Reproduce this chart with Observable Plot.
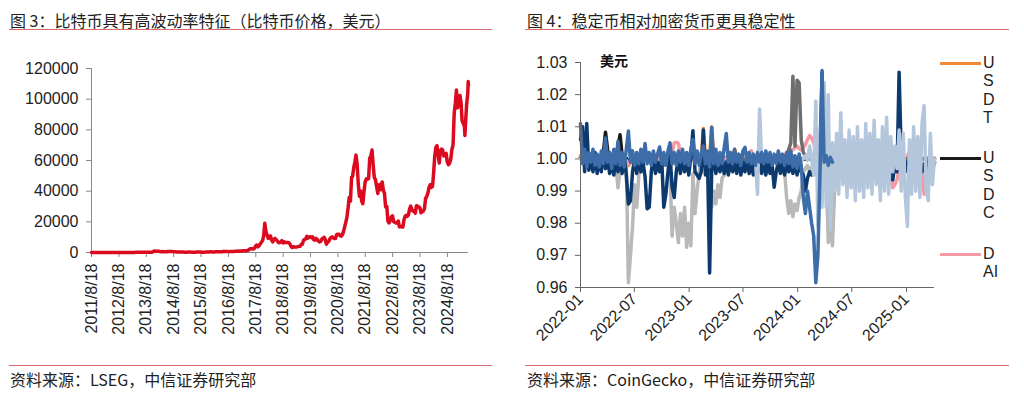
<!DOCTYPE html>
<html><head><meta charset="utf-8">
<script src="https://cdn.jsdelivr.net/npm/d3@7"></script>
<script src="https://cdn.jsdelivr.net/npm/@observablehq/plot@0.6"></script>
<style>
body{margin:0;background:#fff;width:1024px;height:397px;position:relative;overflow:hidden;font-family:"Liberation Sans",Arial,"Noto Sans CJK SC",sans-serif;}
.abs{position:absolute;}
.title{font-family:"Noto Sans CJK SC",sans-serif;font-size:16px;line-height:22px;color:#222;white-space:nowrap;}
.rule{height:0;border-top:1.5px solid #dc6b6b;}
.src{font-family:"Noto Sans CJK SC",sans-serif;font-size:16px;line-height:22px;color:#222;white-space:nowrap;}
.unit{font-family:"Noto Sans CJK SC",sans-serif;font-weight:bold;font-size:14px;line-height:22px;color:#111;z-index:3;}
.lgline{height:3px;width:41px;z-index:3;}
.lgtext{width:16px;word-break:break-all;font-size:16px;line-height:18.5px;color:#222;z-index:3;}
</style>
</head><body>
<script>
// ---------------- Left chart data: Bitcoin price (USD) ----------------
// Semi-monthly closes on the 1st and 16th of each month, 2011-09 .. 2025-05
const btcSemiMonthly = [
 8.2,5.0, 5.0,3.5, 3.2,2.5, 3.0,3.2,
 5.3,6.5, 5.8,4.5, 4.9,5.3, 4.9,5.0, 5.0,5.1, 5.3,6.3, 6.6,8.5, 9.5,12.0, 10.3,11.8, 12.4,11.7, 10.6,11.6, 12.6,13.3,
 13.4,14.5, 20,26, 34,47, 104,90, 117,115, 120,100, 88,98, 105,110, 130,127, 125,145, 205,430, 1000,700,
 800,850, 820,620, 560,630, 470,520, 450,450, 640,590, 630,620, 590,500, 480,470, 385,390, 330,390, 375,330,
 315,210, 230,235, 255,285, 245,225, 235,237, 225,250, 260,280, 280,255, 230,230, 237,262, 330,330, 360,455,
 430,385, 375,400, 435,415, 415,430, 450,455, 535,765, 675,665, 625,580, 570,610, 610,640, 700,745, 750,780,
 1000,830, 990,1020, 1180,1100, 1080,1200, 1430,1750, 2400,2500, 2500,2300, 2800,4300, 4900,3700, 4400,5600, 6700,7800, 10900,19100,
 13600,11300, 9200,10100, 10900,8300, 6900,8300, 9200,8500, 7500,6500, 6400,6700, 7700,6300, 7000,6500, 6600,6500, 6400,5600, 4000,3300,
 3800,3600, 3500,3600, 3800,4000, 4100,5200, 5400,7900, 8500,9000, 10600,9400, 10100,10300, 9600,10200, 8300,8000, 9200,8500, 7400,6900,
 7200,8700, 9400,9900, 8600,5400, 6600,7100, 8800,9700, 10200,9500, 9200,9200, 11800,11900, 11900,10900, 10600,11500, 13800,16700, 19700,23000,
 29400,36000, 33500,49000, 49600,55000, 59000,63500, 57800,45000, 36700,40200, 33600,31800, 39900,46000, 48000,47700, 48200,61500, 63000,66800, 57200,48900,
 47500,43000, 38500,44000, 44400,41000, 46000,40500, 38500,29800, 30000,20400, 19300,20800, 23300,23900, 20100,19700, 19300,19300, 20500,16700, 17000,16800,
 16600,21200, 23700,24300, 23600,24400, 28500,30300, 28000,27000, 27200,25600, 30500,30300, 29700,29200, 25900,26600, 27000,28500, 35400,36500, 38700,42300,
 44200,42500, 43100,52100, 62400,68400, 69700,63800, 58300,66200, 67500,66700, 62900,64100, 64600,58900, 57300,58200, 60800,67000, 70200,90500, 97200,106000,
 94400,100500, 102400,97600, 86000,84300, 82500,84000, 96500,103700
];
const btcExtraDates = ["2011-08-18", "2025-04-08", "2025-05-22", "2025-05-26"];
const btcExtraPrices = [11, 76300, 111500, 109000];
const btcYTicks = [0, 20000, 40000, 60000, 80000, 100000, 120000];
const btcXTickYears = [2011,2012,2013,2014,2015,2016,2017,2018,2019,2020,2021,2022,2023,2024];
const btcDomain = ["2011-08-18", "2025-05-26"];

// ---------------- Right chart data: stablecoin prices (USD), weekly from 2022-01-01 ----------------
const weekStartDate = "2022-01-01";
const usdt = [
 1.0010,1.0005,0.9995,1.0008,1.0000,0.9996,1.0004,1.0001,0.9998,1.0003,
 1.0002,0.9997,1.0006,1.0001,0.9998,1.0003,1.0000,0.9995,1.0004,1.0002,
 0.9990,0.9985,0.9992,0.9980,0.9988,0.9995,0.9998,1.0002,0.9997,1.0001,
 1.0003,0.9998,1.0001,1.0004,0.9999,1.0002,0.9997,1.0001,1.0003,0.9998,
 1.0000,1.0004,0.9998,1.0002,0.9985,0.9990,0.9995,1.0000,0.9998,1.0002,
 1.0001,0.9997,1.0003,1.0000,0.9998,1.0004,1.0001,0.9999,1.0003,1.0095,
 1.0005,1.0010,1.0004,1.0100,1.0008,1.0006,1.0003,1.0001,1.0004,1.0002,
 1.0005,1.0003,1.0001,1.0006,1.0030,1.0004,1.0002,0.9999,1.0003,1.0001,
 0.9998,1.0002,1.0025,1.0003,1.0000,0.9997,1.0002,1.0001,0.9999,1.0003,
 1.0001,0.9998,1.0002,1.0000,0.9997,1.0003,1.0001,0.9999,1.0002,1.0004,
 1.0006,1.0003,1.0008,1.0005,1.0002,1.0004,1.0001,0.9998,1.0002,1.0005,
 1.0007,1.0004,1.0002,1.0005,1.0003,1.0006,1.0004,1.0002,1.0005,1.0003,
 1.0004,1.0001,1.0003,0.9999,1.0002,1.0000,0.9998,1.0002,1.0001,0.9999,
 1.0002,0.9998,1.0001,1.0003,0.9999,1.0002,1.0000,0.9998,1.0001,1.0003,
 1.0001,0.9999,1.0002,1.0000,0.9998,1.0002,1.0004,1.0001,1.0003,1.0005,
 1.0004,1.0002,1.0005,1.0003,1.0006,1.0004,1.0002,1.0003,1.0001,0.9999,
 1.0002,1.0000,0.9998,1.0001,1.0003,0.9999,1.0002,1.0000,0.9998,1.0001,1.0002
];
const usdc = [
 1.0005,1.0010,0.9998,1.0004,1.0000,0.9997,1.0003,1.0001,0.9999,1.0002,
 1.0001,1.0020,1.0083,1.0030,1.0002,0.9998,1.0003,1.0010,1.0040,1.0075,
 1.0010,0.9995,1.0002,0.9990,0.9996,1.0001,0.9998,1.0003,1.0000,0.9998,
 1.0002,0.9999,1.0001,0.9998,1.0002,1.0000,0.9997,1.0002,1.0001,0.9998,
 1.0001,0.9999,1.0002,1.0000,0.9996,1.0001,0.9998,1.0002,1.0000,0.9999,
 1.0002,1.0000,0.9998,1.0001,1.0003,0.9999,1.0001,0.9998,1.0000,1.0004,
 0.9998,1.0002,0.9950,1.0003,1.0000,0.9998,1.0002,1.0000,0.9997,1.0001,
 1.0002,0.9999,1.0001,0.9998,1.0003,1.0000,0.9998,1.0002,1.0001,0.9999,
 1.0002,1.0000,0.9998,1.0001,1.0003,0.9999,1.0001,0.9998,1.0002,1.0000,
 0.9998,1.0002,1.0001,0.9999,1.0002,1.0000,0.9998,1.0001,1.0003,1.0001,
 1.0002,1.0004,1.0001,0.9999,1.0002,1.0000,0.9998,1.0001,0.9999,1.0002,
 1.0001,0.9999,1.0002,1.0000,0.9998,1.0001,1.0003,0.9999,1.0001,0.9998,
 1.0002,1.0000,0.9999,1.0001,0.9998,1.0002,1.0000,0.9999,1.0001,1.0000,
 0.9999,1.0001,1.0000,0.9998,1.0002,1.0000,0.9999,1.0001,0.9998,1.0002,
 1.0000,0.9999,1.0001,1.0000,0.9998,1.0002,1.0000,0.9999,1.0001,0.9998,
 1.0002,1.0000,0.9999,1.0001,1.0000,0.9998,1.0002,1.0000,0.9999,1.0001,
 0.9998,1.0002,1.0000,0.9999,1.0001,1.0000,0.9998,1.0002,1.0000,0.9999,0.9990
];
const dai = [
 1.0010,1.0005,1.0002,1.0006,1.0001,0.9998,1.0003,1.0000,0.9997,1.0002,
 1.0004,1.0010,1.0035,1.0008,1.0002,0.9998,1.0003,1.0000,1.0004,1.0006,
 1.0002,0.9990,0.9995,0.9985,0.9992,0.9998,1.0001,0.9997,1.0002,1.0000,
 0.9998,1.0002,1.0000,0.9997,1.0003,1.0001,0.9998,1.0002,1.0000,0.9999,
 1.0002,1.0000,1.0004,1.0010,1.0020,1.0050,1.0052,1.0048,1.0015,1.0004,
 1.0001,0.9998,1.0002,1.0000,0.9998,1.0003,1.0001,0.9998,1.0002,1.0001,
 0.9998,1.0002,0.9990,1.0004,1.0001,0.9998,1.0002,1.0000,0.9997,1.0001,
 1.0002,0.9999,1.0001,1.0003,1.0002,0.9999,1.0002,1.0000,0.9998,1.0001,
 1.0003,1.0010,1.0025,1.0006,1.0001,0.9998,1.0002,1.0000,0.9998,1.0002,
 1.0001,0.9999,1.0002,1.0000,0.9998,1.0002,1.0004,1.0008,1.0012,1.0018,
 1.0026,1.0030,1.0028,1.0035,1.0040,1.0032,1.0028,1.0035,1.0045,1.0060,
 1.0073,1.0065,1.0050,1.0030,1.0015,1.0008,1.0004,1.0002,1.0000,1.0003,
 1.0001,0.9998,1.0002,1.0000,0.9998,1.0002,1.0001,0.9999,1.0002,1.0000,
 0.9998,1.0002,1.0000,0.9997,1.0001,1.0003,0.9999,1.0001,0.9998,1.0002,
 1.0000,0.9998,1.0002,1.0001,0.9999,1.0002,1.0000,0.9998,0.9980,0.9950,
 0.9910,0.9920,0.9935,0.9970,0.9995,1.0002,1.0000,1.0010,1.0025,1.0040,
 1.0050,1.0057,1.0030,1.0005,0.9960,0.9890,0.9940,0.9990,1.0002,1.0000,1.0001
];
const tusd = [
 1.0000,0.9990,1.0010,0.9995,1.0005,0.9990,1.0005,0.9995,1.0000,0.9990,
 1.0005,0.9995,1.0000,0.9990,1.0005,0.9995,1.0000,0.9980,0.9910,0.9960,
 0.9990,0.9995,0.9980,0.9615,0.9700,0.9790,0.9920,0.9850,0.9950,0.9980,
 0.9990,1.0000,0.9990,1.0000,0.9985,1.0000,0.9990,0.9995,0.9985,0.9990,
 0.9980,0.9990,0.9985,0.9960,0.9760,0.9850,0.9800,0.9740,0.9830,0.9760,
 0.9850,0.9725,0.9800,0.9730,0.9955,0.9830,0.9900,0.9960,0.9990,0.9980,
 0.9990,0.9970,0.9880,0.9850,0.9900,0.9860,0.9920,0.9880,0.9940,0.9950,
 0.9975,0.9990,0.9985,0.9995,0.9990,1.0000,0.9990,0.9995,0.9985,1.0000,
 0.9990,0.9995,0.9985,1.0000,0.9990,0.9995,0.9990,0.9995,0.9985,1.0000,
 0.9990,0.9995,0.9985,0.9990,0.9995,0.9985,0.9990,0.9980,0.9960,0.9880,
 0.9830,0.9870,0.9820,0.9860,0.9840,0.9880,0.9900,0.9960,0.9970,0.9980,
 0.9960,0.9975,0.9985,0.9990,0.9980,0.9990,0.9985,0.9990,0.9960,0.9740,
 0.9800,0.9730,0.9900,0.9960,0.9980,0.9990,0.9985,0.9995,0.9990,1.0000,
 0.9995,1.0002,0.9998,1.0001,0.9997,1.0002,0.9999,1.0001,0.9998,1.0002,
 1.0000,0.9997,1.0002,0.9999,1.0001,0.9998,1.0002,1.0000,0.9997,1.0001,
 0.9999,1.0002,0.9998,1.0001,0.9997,1.0002,0.9999,0.9995,1.0000,0.9998,
 1.0002,0.9999,1.0001,0.9998,1.0002,1.0000,0.9997,1.0001,0.9999,1.0002,1.0000
];
const fdusdStartWeek = 78;
const fdusd = [
 1.0000,0.9995,
 1.0002,0.9998,1.0003,1.0000,0.9997,1.0002,1.0000,0.9998,1.0002,1.0001,
 0.9998,1.0002,1.0000,0.9997,1.0003,1.0001,0.9998,1.0002,1.0005,1.0010,
 1.0030,1.0050,1.0257,1.0040,1.0245,1.0237,1.0060,1.0020,1.0010,1.0005,
 1.0002,0.9998,1.0003,1.0000,0.9997,1.0002,1.0000,0.9998,1.0002,1.0001,
 1.0001,0.9998,1.0002,1.0000,0.9997,1.0002,1.0001,0.9998,1.0002,1.0000,
 0.9998,1.0002,1.0000,0.9997,1.0003,1.0001,0.9998,1.0002,1.0000,0.9999,
 1.0002,1.0000,0.9998,1.0001,1.0003,0.9999,1.0001,0.9998,1.0002,1.0000,
 0.9999,1.0001,1.0000,0.9998,1.0002,1.0000,0.9999,1.0001,0.9998,1.0002,
 1.0000,0.9999,1.0001,1.0000,0.9998,1.0002,1.0000,0.9999,1.0001,0.9998,1.0000
];
const usdp = [
 1.0060,1.0100,0.9960,1.0110,0.9965,1.0000,0.9960,1.0020,0.9955,1.0000,
 0.9960,1.0030,0.9970,1.0000,0.9955,0.9990,0.9950,1.0010,0.9960,1.0000,
 0.9955,1.0010,0.9950,0.9860,0.9870,0.9960,1.0000,0.9955,1.0010,0.9960,
 0.9990,0.9945,0.9845,0.9850,0.9960,1.0010,0.9955,0.9990,0.9960,1.0000,
 0.9850,0.9890,0.9960,1.0010,0.9912,0.9880,0.9960,1.0000,0.9955,1.0010,
 0.9960,1.0000,0.9950,1.0010,1.0088,0.9960,0.9950,0.9940,0.9960,1.0090,
 0.9950,1.0000,0.9645,0.9960,1.0010,0.9955,0.9990,0.9960,1.0000,0.9955,
 0.9990,0.9950,1.0000,0.9960,0.9990,0.9955,1.0000,0.9950,0.9990,0.9960,
 1.0000,0.9955,0.9990,0.9950,0.9995,0.9960,0.9990,0.9955,1.0000,0.9950,
 0.9990,0.9955,0.9985,0.9912,0.9960,0.9990,0.9955,0.9985,0.9950,0.9990,
 0.9960,0.9980,0.9955,0.9990,0.9950,0.9985,0.9960,0.9950,0.9900,0.9940,
 0.9960,0.9950,0.9960,0.9990,0.9970,0.9980,1.0270,0.9960,0.9990,0.9970,
 0.9990,0.9960,0.9985,0.9965,0.9990,0.9955,0.9985,0.9962,0.9992,0.9966,
 0.9988,0.9958,0.9986,0.9964,0.9991,0.9957,0.9987,0.9961,0.9989,0.9963,
 0.9992,0.9959,0.9984,0.9966,0.9990,0.9956,0.9986,0.9962,0.9989,0.9940,
 0.9935,0.9985,0.9960,1.0270,1.0020,0.9985,0.9960,0.9990,0.9965,0.9990,
 0.9960,0.9985,0.9965,0.9990,0.9960,0.9985,0.9965,0.9990,0.9960,0.9985,0.9985
];
const pyusdStartWeek = 84;
const pyusd = [
 1.0000,0.9890,1.0155,0.9995,1.0005,0.9995,
 1.0005,0.9995,1.0000,1.0005,0.9995,1.0000,1.0005,0.9995,1.0000,1.0005,
 0.9995,1.0000,1.0005,0.9995,1.0000,1.0005,0.9995,1.0000,1.0010,0.9995,
 1.0040,1.0000,0.9950,1.0180,0.9790,1.0100,0.9850,1.0238,0.9850,1.0200,
 0.9780,1.0050,0.9900,1.0080,0.9890,1.0144,0.9920,1.0060,0.9880,1.0090,
 0.9910,1.0070,0.9870,1.0100,0.9900,1.0060,0.9880,1.0110,0.9910,1.0080,
 0.9890,1.0120,0.9920,1.0060,0.9870,1.0100,0.9900,1.0130,0.9890,1.0070,
 0.9960,1.0040,0.9970,1.0090,0.9900,1.0080,0.9880,0.9790,1.0060,0.9890,
 1.0100,0.9900,1.0070,0.9880,1.0110,1.0166,0.9900,0.9870,1.0080,0.9920,1.0000
];
const busd = [
 1.0110,0.9985,1.0030,0.9975,1.0020,0.9990,1.0030,0.9980,1.0015,0.9975,
 1.0025,0.9985,1.0065,0.9990,1.0020,0.9970,1.0030,0.9985,1.0055,0.9980,
 1.0020,0.9975,1.0030,1.0087,0.9990,1.0025,0.9980,1.0020,0.9985,1.0030,
 0.9990,1.0048,0.9985,1.0020,0.9980,1.0025,0.9990,1.0015,1.0037,0.9985,
 1.0020,0.9980,1.0025,1.0050,0.9985,1.0020,0.9980,1.0025,0.9990,1.0030,
 0.9985,1.0020,0.9980,1.0030,1.0060,0.9985,1.0025,0.9980,1.0020,1.0040,
 0.9985,1.0025,0.9975,1.0098,0.9985,1.0030,0.9980,1.0020,0.9985,1.0035,
 1.0079,0.9990,1.0020,0.9985,1.0030,0.9990,1.0015,0.9980,1.0025,1.0036,
 0.9990,1.0020,0.9985,1.0015,0.9980,1.0020,0.9990,1.0020,0.9985,1.0025,
 0.9990,1.0020,0.9980,1.0015,0.9985,1.0025,0.9990,1.0015,0.9980,1.0020,
 0.9985,1.0025,0.9975,1.0010,0.9970,1.0015,0.9980,0.9880,0.9830,0.9900,
 0.9850,0.9800,0.9760,0.9615,0.9700,0.9950,1.0275,0.9990,1.0010,0.9980,1.0005,0.9990
];
const stableYTicks = [0.96, 0.97, 0.98, 0.99, 1.00, 1.01, 1.02, 1.03];
const stableXTicks = ["2022-01-01","2022-07-01","2023-01-01","2023-07-01","2024-01-01","2024-07-01","2025-01-01"];
const stableDomain = ["2022-01-01", "2025-04-05"];
const legendNames = ["USDT", "USDC", "DAI"];

// ---------------- Styles (kept apart from data) ----------------
const colors = {USDT:"#f0883a", USDC:"#1a1a1a", DAI:"#f59aa4", TUSD:"#b9b9b9", FDUSD:"#6e6e6e", USDP:"#0c3a6e", PYUSD:"#b3c6dc", BUSD:"#3d6da9"};
const numFont = "'Liberation Sans', Arial, sans-serif";

// ---------------- Build tables ----------------
const btc = btcSemiMonthly.map((p, i) => {
  const y = 2011 + Math.floor((8 + Math.floor(i / 2)) / 12);
  const m = (8 + Math.floor(i / 2)) % 12;
  return {date: new Date(Date.UTC(y, m, i % 2 === 0 ? 1 : 16)), price: p};
}).concat(btcExtraDates.map((d, i) => ({date: new Date(d), price: btcExtraPrices[i]})))
  .sort((a, b) => a.date - b.date);
const btcXTicks = btcXTickYears.map(y => new Date(Date.UTC(y, 7, 18)));

const w0 = new Date(weekStartDate).getTime();
const weekly = (vals, start) => vals.map((v, i) => ({date: new Date(w0 + (start + i) * 7 * 864e5), value: v}));
const seriesOrder = [
  ["USDT", weekly(usdt, 0)], ["USDC", weekly(usdc, 0)], ["DAI", weekly(dai, 0)],
  ["TUSD", weekly(tusd, 0)], ["FDUSD", weekly(fdusd, fdusdStartWeek)], ["USDP", weekly(usdp, 0)],
  ["PYUSD", weekly(pyusd, pyusdStartWeek)], ["BUSD", weekly(busd, 0)]
];

// ---------------- Left chart ----------------
const left = Plot.plot({
  width: 512, height: 300,
  marginLeft: 91, marginRight: 44, marginTop: 28, marginBottom: 88,
  style: {fontSize: "16px", fontFamily: numFont, color: "#222", background: "transparent"},
  x: {type: "utc", domain: btcDomain.map(d => new Date(d))},
  y: {domain: [0, 120000]},
  marks: [
    Plot.axisY({ticks: btcYTicks, tickSize: 5, tickPadding: 8, tickFormat: d => String(d), label: null, stroke: "#888"}),
    Plot.axisX({ticks: btcXTicks, tickSize: 5, tickPadding: 6, tickRotate: -90, label: null, stroke: "#888",
      tickFormat: d => `${d.getUTCFullYear()}/${d.getUTCMonth() + 1}/${d.getUTCDate()}`}),
    Plot.ruleX([new Date(btcDomain[0])], {stroke: "#888"}),
    Plot.ruleY([0], {stroke: "#888"}),
    Plot.line(btc, {x: "date", y: "price", stroke: "#dc0a1e", strokeWidth: 3.5, strokeLinejoin: "round"})
  ]
});

// ---------------- Right chart ----------------
const right = Plot.plot({
  width: 512, height: 320,
  marginLeft: 68, marginRight: 90, marginTop: 22, marginBottom: 73,
  style: {fontSize: "16px", fontFamily: numFont, color: "#222", background: "transparent"},
  x: {type: "utc", domain: stableDomain.map(d => new Date(d))},
  y: {domain: [0.96, 1.03]},
  marks: [
    Plot.axisY({ticks: stableYTicks, tickSize: 5, tickPadding: 8, tickFormat: d3.format(".2f"), label: null, stroke: "#666"}),
    Plot.axisX({ticks: stableXTicks.map(d => new Date(d)), tickSize: 5, tickPadding: 4, tickRotate: -45, label: null, stroke: "#666",
      tickFormat: d3.utcFormat("%Y-%m")}),
    ...seriesOrder.map(([name, data]) => Plot.line(data, {x: "date", y: "value", stroke: colors[name], strokeWidth: 3.5, strokeLinejoin: "round"})),
    Plot.ruleX([new Date(stableDomain[0])], {stroke: "#666"}),
    Plot.ruleY([0.96], {stroke: "#666"})
  ]
});

function place(el, x, y, w) {
  const d = document.createElement("div");
  d.className = "abs"; d.style.left = x + "px"; d.style.top = y + "px";
  if (w) d.style.width = w + "px";
  d.appendChild(el); document.body.appendChild(d); return d;
}
place(left, 0, 40, 512);
place(right, 512, 40, 512);

function html(cls, x, y, text, extra) {
  const d = document.createElement("div");
  d.className = "abs " + cls; d.style.left = x + "px"; d.style.top = y + "px";
  if (text != null) d.textContent = text;
  if (extra) Object.assign(d.style, extra);
  document.body.appendChild(d); return d;
}
html("title", 10, 9, "图 3：比特币具有高波动率特征（比特币价格，美元）");
html("title", 527, 9, "图 4：稳定币相对加密货币更具稳定性");
html("rule", 9, 29, null, {width: "483px"});
html("rule", 525, 29, null, {width: "484px"});
html("rule", 9, 365, null, {width: "483px"});
html("rule", 525, 365, null, {width: "484px"});
html("src", 10, 368, "资料来源：LSEG，中信证券研究部");
html("src", 527, 368, "资料来源：CoinGecko，中信证券研究部");
html("unit", 600, 49, "美元");
const legendY = [63, 158, 254];
legendNames.forEach((n, i) => {
  html("lgline", 940, legendY[i] - 1.5, null, {background: colors[n]});
  html("lgtext", 983, legendY[i] - 9.5, n);
});
</script>
</body></html>
